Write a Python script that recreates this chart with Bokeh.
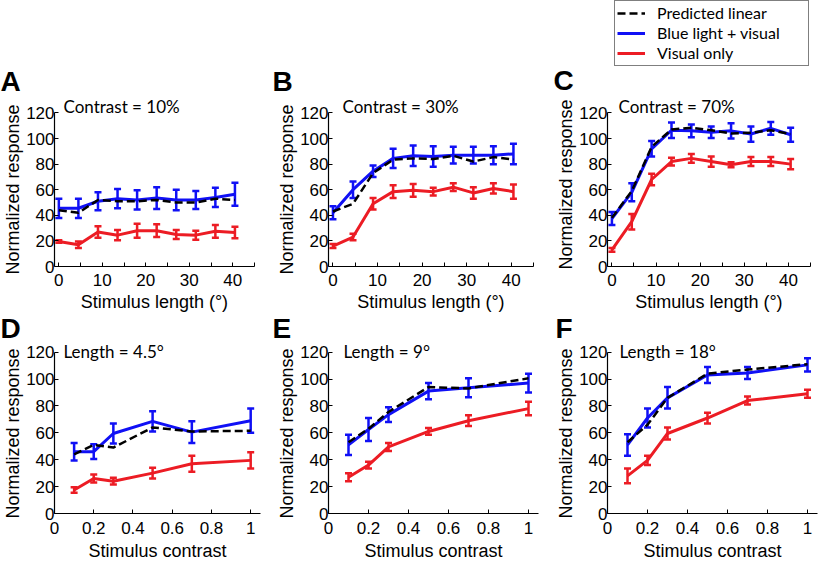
from bokeh.plotting import figure
from bokeh.layouts import column, row
from bokeh.models import (ColumnDataSource, Whisker, TeeHead, Label, Legend, LegendItem,
                          FixedTicker, Range1d, NumeralTickFormatter, Title)
from bokeh.embed import file_html
from bokeh.resources import INLINE

# ---------------- data ----------------
lengths = [0, 4.5, 9, 13.5, 18, 22.5, 27, 31.5, 36, 40.5]
contrasts = [0.1, 0.2, 0.3, 0.5, 0.7, 1.0]

length_ticks = [0, 10, 20, 30, 40]
length_minor = [5, 15, 25, 35, 45]
contrast_ticks = [0, 0.2, 0.4, 0.6, 0.8, 1.0]
resp_ticks = [0, 20, 40, 60, 80, 100, 120]

panel_letters = ["A", "B", "C", "D", "E", "F"]
panel_titles = ["Contrast = 10%", "Contrast = 30%", "Contrast = 70%",
                "Length = 4.5°", "Length = 9°", "Length = 18°"]
legend_labels = ["Predicted linear", "Blue light + visual", "Visual only"]
xlabel_length = "Stimulus length (°)"
xlabel_contrast = "Stimulus contrast"
ylabel = "Normalized response"

# A: contrast 10%
a_pred = [44, 42, 52, 51, 51, 52, 50, 50, 53, 52]
a_blue = [45.5, 45.5, 51, 53, 52, 53.5, 52, 52, 54, 56.5]
a_blue_err = [7.5, 7.5, 7, 7.5, 7.5, 8.5, 8, 7, 7.5, 9]
a_red = [19.5, 17, 27, 24.5, 28, 28, 25, 24.5, 27.5, 26.5]
a_red_err = [1, 2.5, 4.5, 4, 5.5, 5, 3.5, 3.5, 5, 4.5]

# B: contrast 30%
b_pred = [43, 49, 73, 83.5, 84.5, 84, 86.5, 82, 85.5, 83.5]
b_blue = [42, 60, 74.5, 84.5, 86.5, 86, 87, 87, 87, 88]
b_blue_err = [5, 6.5, 4.5, 7.5, 8, 8, 6.5, 6.5, 7, 8]
b_red = [16, 23, 49, 58.5, 59.5, 58.5, 62, 57.5, 61, 58.5]
b_red_err = [1.5, 2.5, 4.5, 5, 5, 3, 3, 4.5, 4, 5.5]

# C: contrast 70%
c_pred = [38, 59, 93.5, 107, 108.5, 106.5, 104, 104.5, 106.5, 103.5]
c_blue = [37.5, 58, 92, 106.5, 106, 105, 106, 103.5, 108, 103]
c_blue_err = [5, 7, 6, 6, 5, 4.5, 6, 6, 5, 5.5]
c_red = [13, 35, 68, 82, 84.5, 82, 79.5, 82, 82, 80]
c_red_err = [1.5, 6, 4.5, 3, 3.5, 4, 2, 3.5, 3.5, 4]

# D: length 4.5 deg
d_pred = [44, 51, 49, 64, 61, 61.5]
d_blue = [46, 46, 59.5, 68.5, 60.5, 69]
d_blue_err = [6.5, 5.5, 7.5, 7.5, 8, 9]
d_red = [17.5, 26, 24, 30, 37, 39.5]
d_red_err = [2, 3, 2.5, 4, 6, 6]

# E: length 9 deg
e_pred = [53, 63, 75.5, 94, 93, 100.5]
e_blue = [51, 62.5, 73.5, 91, 93.5, 97]
e_blue_err = [7.5, 8.5, 5.5, 6, 7, 7]
e_red = [27, 36, 49.5, 61, 69, 78]
e_red_err = [3, 2.5, 3, 2.5, 4, 5]

# F: length 18 deg
f_pred = [53, 66, 86, 104, 107, 111]
f_blue = [51, 71, 86, 103, 104.5, 110.5]
f_blue_err = [8, 7, 8, 6, 4.5, 5]
f_red = [28, 39.5, 59.5, 71, 84, 89]
f_red_err = [5.5, 3.5, 4.5, 4, 3, 3]

# ---------------- styling ----------------
BLUE = "#1010f5"
RED = "#ec1c24"
BLACK = "#000000"
AXFONT = "Liberation Sans"
TXTFONT = "Lato"
NBSP = "\u00a0"


def errbars(p, xs, ys, errs, color):
    src = ColumnDataSource(dict(x=xs, lo=[y - e for y, e in zip(ys, errs)],
                                hi=[y + e for y, e in zip(ys, errs)]))
    w = Whisker(source=src, base="x", lower="lo", upper="hi", dimension="height",
                line_color=color, line_width=2.5,
                upper_head=TeeHead(size=7, line_color=color, line_width=2.5),
                lower_head=TeeHead(size=7, line_color=color, line_width=2.5))
    p.add_layout(w)


def letter_title(idx, dx, standoff, valign):
    return Title(text=panel_letters[idx], align="left", offset=dx,
                 standoff=standoff, vertical_align=valign,
                 text_font=AXFONT, text_font_size="28px",
                 text_font_style="bold", text_color="black")


def panel(kind, idx, xs, pred, blue, blue_err, red, red_err,
          width, height, bl, br, bt, bb, ytop, xstand,
          letter_dx, letter_standoff, title_dx, title_dy, pad=3):
    xr = Range1d(-1, 45) if kind == "len" else Range1d(0, 1.05)
    p = figure(width=width, height=height, x_range=xr, y_range=Range1d(0, ytop),
               output_backend="svg", toolbar_location=None, title=None,
               min_border_left=bl, min_border_right=br,
               min_border_top=bt, min_border_bottom=bb)
    p.outline_line_color = None
    p.xgrid.visible = False
    p.ygrid.visible = False
    p.background_fill_color = "white"
    p.border_fill_color = "white"

    for ax in (p.xaxis[0], p.yaxis[0]):
        ax.axis_line_color = "black"
        ax.axis_line_width = 1.2
        ax.major_tick_in = 4
        ax.major_tick_out = 0
        ax.minor_tick_in = 4
        ax.minor_tick_out = 0
        ax.major_tick_line_color = "black"
        ax.minor_tick_line_color = "black"
        ax.major_label_text_font = AXFONT
        ax.major_label_text_font_size = "17px"
        ax.major_label_text_color = "black"
        ax.axis_label_text_font = AXFONT
        ax.axis_label_text_font_size = "18px"
        ax.axis_label_text_font_style = "normal"
        ax.axis_label_text_color = "black"
    p.xaxis[0].major_label_standoff = xstand[0]
    p.xaxis[0].axis_label_standoff = xstand[1]
    p.yaxis[0].major_label_standoff = 0
    p.yaxis[0].axis_label_standoff = 0
    p.yaxis[0].bounds = (0, 120)

    if kind == "len":
        p.xaxis[0].ticker = FixedTicker(ticks=length_ticks, minor_ticks=length_minor)
        p.xaxis[0].axis_label = xlabel_length
    else:
        p.xaxis[0].ticker = FixedTicker(ticks=contrast_ticks, minor_ticks=[])
        p.xaxis[0].formatter = NumeralTickFormatter(format="0.[0]")
        p.xaxis[0].axis_label = xlabel_contrast
    p.yaxis[0].ticker = FixedTicker(ticks=resp_ticks, minor_ticks=[])
    # trailing no-break spaces keep the label centred on the 0-120 part of the axis
    p.yaxis[0].axis_label = ylabel + NBSP * pad

    p.line(xs, red, line_color=RED, line_width=3)
    errbars(p, xs, red, red_err, RED)
    p.line(xs, blue, line_color=BLUE, line_width=3)
    errbars(p, xs, blue, blue_err, BLUE)
    p.line(xs, pred, line_color=BLACK, line_width=2.5, line_dash="8 4")

    p.add_layout(Label(x=xr.start, y=120, x_offset=title_dx, y_offset=title_dy,
                       text=panel_titles[idx], text_font=TXTFONT,
                       text_font_size="17px", text_color="black",
                       text_baseline="alphabetic", text_align="left"))
    if letter_dx is not None:
        p.add_layout(letter_title(idx, letter_dx, letter_standoff, "bottom"), "above")
    return p


# top row: frame from y=97 to y=272 (120 at y=113)
H1, BT1, BB1 = 314, 97, 42
YT1 = 120 * 175 / 159
XS1 = (7, 3)
# bottom row: frame from y=338 to y=518 (120 at y=352), row starts at 314
H2, BT2, BB2 = 249, 24, 45
YT2 = 120 * 180 / 166
XS2 = (8, 4)
HDR = 95

pA = panel("len", 0, lengths, a_pred, a_blue, a_blue_err, a_red, a_red_err,
           270, H1, 50, 16, BT1, BB1, YT1, XS1, -54, 2, 9, 6)
pB = panel("len", 1, lengths, b_pred, b_blue, b_blue_err, b_red, b_red_err,
           280, H1, 58, 17, BT1, BB1, YT1, XS1, -56, 2, 14, 6)
pC = panel("len", 2, lengths, c_pred, c_blue, c_blue_err, c_red, c_red_err,
           270, H1 - HDR, 57, 10, BT1 - HDR, BB1, YT1, XS1, None, 0, 11, 6, pad=1)
pD = panel("con", 3, contrasts, d_pred, d_blue, d_blue_err, d_red, d_red_err,
           270, H2, 50, 10, BT2, BB2, YT2, XS2, -54, -10, 9, 1)
pE = panel("con", 4, contrasts, e_pred, e_blue, e_blue_err, e_red, e_red_err,
           280, H2, 58, 12, BT2, BB2, YT2, XS2, -56, -10, 15, 1)
pF = panel("con", 5, contrasts, f_pred, f_blue, f_blue_err, f_red, f_red_err,
           270, H2, 57, 3, BT2, BB2, YT2, XS2, -52, -10, 12, 1)

# header above panel C: legend box (in its frame) and the letter C (below panel)
hdr = figure(width=270, height=HDR, x_range=Range1d(0, 1), y_range=Range1d(0, 1),
             x_axis_type=None, y_axis_type=None, output_backend="svg",
             toolbar_location=None, title=None,
             min_border_left=57, min_border_right=10, min_border_top=0, min_border_bottom=0)
hdr.outline_line_color = None
hdr.xgrid.visible = False
hdr.ygrid.visible = False
hdr.background_fill_color = "white"
hdr.border_fill_color = "white"
# legend proxies: panel C's series, which fall outside this header's ranges
lg_pred = hdr.line(lengths, c_pred, line_color=BLACK, line_width=2.5, line_dash="8 4")
lg_blue = hdr.line(lengths, c_blue, line_color=BLUE, line_width=3)
lg_red = hdr.line(lengths, c_red, line_color=RED, line_width=3)
legend = Legend(items=[LegendItem(label=legend_labels[0], renderers=[lg_pred]),
                       LegendItem(label=legend_labels[1], renderers=[lg_blue]),
                       LegendItem(label=legend_labels[2], renderers=[lg_red])],
                location=(7, 0.5), orientation="vertical",
                border_line_color="black", border_line_width=1.2,
                background_fill_color="white", background_fill_alpha=1.0,
                label_text_font=TXTFONT, label_text_font_size="16px",
                label_text_color="black",
                glyph_width=28, glyph_height=20, label_height=20,
                label_standoff=12, label_width=149,
                spacing=0, padding=2, margin=0)
hdr.add_layout(legend)
hdr.add_layout(letter_title(2, -54, -4, "top"), "below")

layout = column(row(pA, pB, column(hdr, pC)), row(pD, pE, pF))
open("out.html", "w").write(file_html(layout, INLINE))
